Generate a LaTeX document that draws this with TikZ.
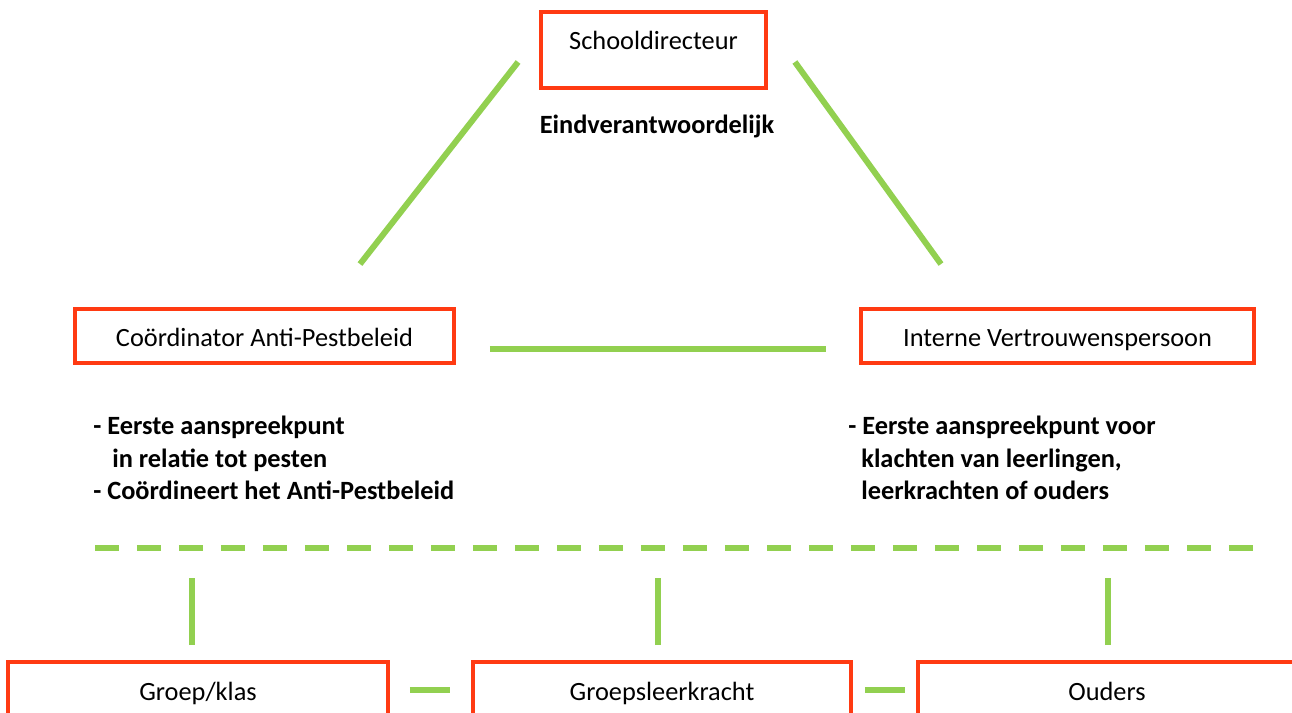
\documentclass[tikz,border=0pt]{standalone}
\usepackage{fontspec}
\setmainfont{Carlito}
\newcommand\tekst{\fontsize{15}{18.4}\selectfont}
\definecolor{rood}{HTML}{FF3A12}
\definecolor{groen}{HTML}{92D050}
\tikzset{
  rol/.style={draw=rood, line width=2.2pt, inner sep=0pt, font=\tekst, text height=14pt, text depth=2pt},
  lijn/.style={draw=groen, line width=3.4pt},
  taak/.style={font=\tekst\bfseries, align=left, anchor=north west, inner sep=0pt}
}

\begin{document}
\begin{tikzpicture}[x=0.02cm, y=-0.02cm]
    \useasboundingbox (0,0) rectangle (1292,713);
    \clip (0,0) rectangle (1292,713);

    \node[rol, minimum width=4.5cm, minimum height=1.52cm, text height=10.5pt, text depth=10.5pt] (dir) at (653.5,50) {Schooldirecteur};
    \node[rol, minimum width=7.58cm, minimum height=1.08cm] (cap) at (264.5,336) {Coördinator Anti-Pestbeleid};
    \node[rol, minimum width=7.86cm, minimum height=1.08cm] (ivp) at (1057.5,336) {Interne Vertrouwenspersoon};
    \node[rol, minimum width=7.6cm, minimum height=1.12cm] (groep) at (198,690) {Groep/klas};
    \node[rol, minimum width=7.56cm, minimum height=1.12cm] (gl) at (662,690) {Groepsleerkracht};
    \node[rol, minimum width=7.56cm, minimum height=1.12cm] (ouders) at (1107,690) {Ouders};

    \node[font=\tekst\bfseries] (eind) at (657,126) {Eindverantwoordelijk};
    \node[taak] (taakcap) at (93,416) {- Eerste aanspreekpunt\\\hspace*{10.8pt}in relatie tot pesten\\- Coördineert het Anti-Pestbeleid};
    \node[taak] (taakivp) at (848,416) {- Eerste aanspreekpunt voor\\\hspace*{7.4pt}klachten van leerlingen,\\\hspace*{7.4pt}leerkrachten of ouders};

    \draw[lijn] ([shift={(-21,12)}]dir.west) -- ([shift={(95.5,-43)}]cap.north);
    \draw[lijn] ([shift={(27,12)}]dir.east) -- ([shift={(-116.5,-43)}]ivp.north);
    \draw[lijn] ([shift={(34,13)}]cap.east) -- ([shift={(-33,13)}]ivp.west);

    \coordinate (sl) at (95,548);
    \coordinate (sr) at (1254,548);
    \draw[lijn, dash pattern=on 0.48cm off 0.36cm] (sl) -- (sr);

    \foreach \n/\dx in {groep/-6, gl/-4, ouders/1}
        \draw[lijn] ([shift={(\dx,-15)}]\n.north) -- ++(0,-67);
    \draw[lijn] ([shift={(20,0)}]groep.east) -- ([shift={(-21,0)}]gl.west);
    \draw[lijn] ([shift={(12,0)}]gl.east) -- ([shift={(-11,0)}]ouders.west);
\end{tikzpicture}
\end{document}
